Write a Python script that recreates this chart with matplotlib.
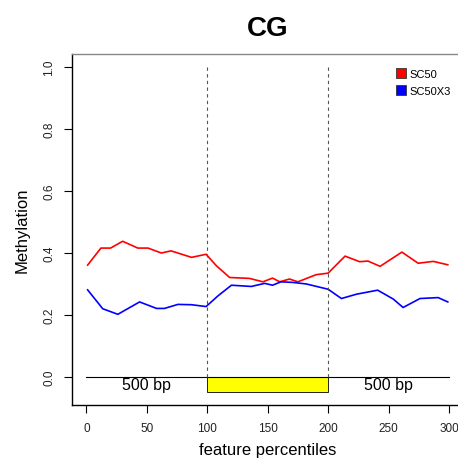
import matplotlib

matplotlib.use("Agg")

import matplotlib.pyplot as plt
from matplotlib.lines import Line2D

plt.rcParams.update({
    "font.family": ["Liberation Sans", "DejaVu Sans"],
    "font.size": 8,
})

# feature percentile positions and methylation values
sc50_x = [1, 12, 20, 30, 42.5, 51, 62, 70, 87, 99, 107.5, 118.5, 135, 146,
          154, 160, 168, 175, 190, 200, 214, 226, 233, 243, 261, 274.5, 287, 299]
sc50_y = [0.360, 0.415, 0.415, 0.437, 0.415, 0.415, 0.399, 0.406, 0.385, 0.395,
          0.358, 0.320, 0.317, 0.306, 0.318, 0.306, 0.315, 0.306, 0.329, 0.334,
          0.389, 0.371, 0.373, 0.356, 0.402, 0.366, 0.372, 0.361]

sc50x3_x = [1, 13.5, 26, 44, 58, 64.6, 75.7, 87, 99, 109, 120, 136.5, 147.5,
            154, 161, 171, 182, 200, 211, 223.5, 241, 254, 262, 276, 291, 299]
sc50x3_y = [0.280, 0.219, 0.201, 0.241, 0.220, 0.220, 0.233, 0.232, 0.226,
            0.261, 0.295, 0.291, 0.301, 0.295, 0.306, 0.304, 0.299, 0.282,
            0.252, 0.266, 0.279, 0.250, 0.223, 0.252, 0.255, 0.241]

series_names = ["SC50", "SC50X3"]
series_colors = ["#ff0000", "#0000ff"]

feature_start, feature_end = 100, 200
flank_labels = ["500 bp", "500 bp"]
flank_centers = [50, 250]

fig = plt.figure(figsize=(4.58, 4.60), dpi=100)
ax = fig.add_axes([0.157, 0.1174, 0.855, 0.763])

ax.plot(sc50_x, sc50_y, color=series_colors[0], lw=1.2)
ax.plot(sc50x3_x, sc50x3_y, color=series_colors[1], lw=1.2)

# feature body and flanks
ax.plot([0, 300], [0, 0], color="black", lw=0.8)
ax.add_patch(plt.Rectangle((feature_start, -0.05), feature_end - feature_start,
                           0.05, facecolor="#ffff00", edgecolor="black", lw=0.6))
for xc, lab in zip(flank_centers, flank_labels):
    ax.text(xc, -0.027, lab, ha="center", va="center", fontsize=11.5)
for xv in (feature_start, feature_end):
    ax.plot([xv, xv], [0, 1.0], color="#555555", lw=0.8, ls=(0, (3, 3)))

ax.set_xlim(-12, 312)
ax.set_ylim(-0.092, 1.042)
ax.set_xticks([0, 50, 100, 150, 200, 250, 300])
ax.set_yticks([0.0, 0.2, 0.4, 0.6, 0.8, 1.0])
ax.set_yticklabels(["0.0", "0.2", "0.4", "0.6", "0.8", "1.0"],
                   rotation=90, va="center")
ax.tick_params(direction="out", length=6, width=0.8, labelsize=8.5, pad=6,
               labelcolor="#222222")

ax.spines["right"].set_visible(False)
ax.spines["top"].set_color("#888888")
for s in ("left", "bottom", "top"):
    ax.spines[s].set_linewidth(1.0)

ax.set_xlabel("feature percentiles", fontsize=12, labelpad=6)
ax.set_ylabel("Methylation", fontsize=12, labelpad=10)
fig.text(0.585, 0.937, "CG", ha="center", va="center",
         fontsize=20, fontweight="bold")

handles = [Line2D([], [], ls="none", marker="s", markersize=7,
                  markerfacecolor=c, markeredgecolor="#333333",
                  markeredgewidth=0.6) for c in series_colors]
ax.legend(handles, series_names, loc="upper right",
          bbox_to_anchor=(0.992, 0.985), frameon=False, fontsize=8,
          handlelength=0.8, handletextpad=0.3, labelspacing=0.6)

fig.savefig("out.png", dpi=100)
